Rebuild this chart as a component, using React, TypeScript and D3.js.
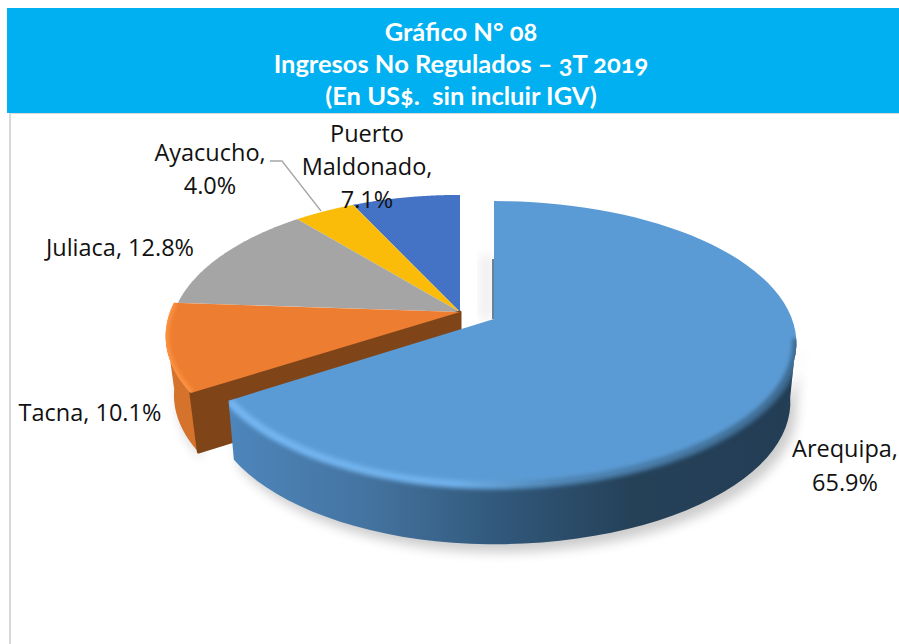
import * as React from 'react';
import * as d3 from 'd3';

const categories = ['Arequipa', 'Tacna', 'Juliaca', 'Ayacucho', 'Puerto Maldonado'];
const shares = [65.9, 10.1, 12.8, 4.0, 7.1];
const topColors = ['#5b9bd5', '#ed7d31', '#a5a5a5', '#fbbc09', '#4472c4'];
const titleLines = ['Gráfico N° 08', 'Ingresos No Regulados – 3T 2019', '(En US$.  sin incluir IGV)'];

const W = 899;
const H = 644;
const depth = 59;
const persp = 0.17;

type Pt = [number, number];
type Disc = { cx: number; cy: number; rxL: number; rxR: number; ry: number; shrink: number };

// tilted disc with a little perspective, t is the clockwise angle from 12 o'clock
function project(t: number, c: Disc): Pt {
  const u = Math.sin(t);
  const v = -Math.cos(t);
  const k = 1 - persp * v;
  return [c.cx + ((u < 0 ? c.rxL : c.rxR) * u) / k, c.cy + (c.ry * v) / k];
}

function arcPoints(a0: number, a1: number, c: Disc) {
  return d3.range(0, 81).map(i => project(a0 + ((a1 - a0) * i) / 80, c));
}

const line = d3.line();

// the lower edge sits a bit further from the eye, so it is narrower
const lower = (p: Pt, c: Disc): Pt => [c.cx + (p[0] - c.cx) * c.shrink, p[1] + depth];

const wall = (pts: Pt[], c: Disc) =>
  line([...pts, ...pts.map(p => lower(p, c)).reverse()]) + 'Z';

export default function App() {
  const arcs = d3.pie<number>().sort(null)(shares);
  const mainC: Disc = { cx: 494, cy: 319, rxL: 286, rxR: 298, ry: 138, shrink: 0.98 };
  const restC: Disc = { cx: 460, cy: 312, rxL: 286, rxR: 286, ry: 137, shrink: 0.966 };
  const tacnaC: Disc = { ...restC, rxL: 290, shrink: 0.972 };

  const geom = (i: number) => {
    const c = i === 0 ? mainC : i === 1 ? tacnaC : restC;
    const outer = arcPoints(arcs[i].startAngle, arcs[i].endAngle, c);
    return { c, outer, top: line([[c.cx, c.cy], ...outer]) + 'Z' };
  };

  const g0 = geom(0);
  const g1 = geom(1);
  // only the front of the rim shows
  const mainRim = g0.outer.filter(p => p[1] > 338);
  const tacnaRim = g1.outer.filter(p => p[1] > 330 && p[0] < 300);
  const tacnaStart = g1.outer[0];
  const mainEnd = g0.outer[g0.outer.length - 1];
  const mainWall = wall(mainRim, mainC);
  const mainEndCap = line([mainEnd, lower(mainEnd, mainC), lower(mainRim[mainRim.length - 1], mainC)]) + 'Z';

  return (
    <svg width={W} height={H} style={{ position: 'absolute', left: 0, top: 0 }}>
      <defs>
        <linearGradient id="mainWall" gradientUnits="userSpaceOnUse" x1="230" x2="790" y1="0" y2="0">
          <stop offset="0" stopColor="#4d86bc" />
          <stop offset="0.25" stopColor="#44739f" />
          <stop offset="0.5" stopColor="#305678" />
          <stop offset="0.72" stopColor="#254158" />
          <stop offset="1" stopColor="#233d55" />
        </linearGradient>
        <linearGradient id="bevel" gradientUnits="userSpaceOnUse" x1="230" x2="790" y1="0" y2="0">
          <stop offset="0" stopColor="#74b6f2" />
          <stop offset="0.4" stopColor="#6fb0ea" />
          <stop offset="0.58" stopColor="#4f86b6" />
          <stop offset="1" stopColor="#3d6a90" />
        </linearGradient>
        <filter id="blur6" x="-20%" y="-20%" width="140%" height="140%">
          <feGaussianBlur stdDeviation="6" />
        </filter>
        <filter id="blur2" x="-10%" y="-10%" width="120%" height="120%">
          <feGaussianBlur stdDeviation="2" />
        </filter>
        <clipPath id="tacnaClip"><path d={g1.top} /></clipPath>
        <clipPath id="mainClip">
          <path d={g0.top} />
          <path d={mainWall} />
          <path d={mainEndCap} />
        </clipPath>
      </defs>

      <rect x={10} y={113} width={W} height={H} fill="#fff" stroke="#d9d9d9" strokeWidth={2} />
      <rect x={7} y={8} width={W - 7} height={105} fill="#00b0f0" />
      <g fontFamily="Lato" fontWeight={700} fontSize={25.5} fill="#fff" textAnchor="middle" style={{ fontFeatureSettings: '"onum"' }}>
        {titleLines.map((t, i) => (
          <text key={t} x={461} y={41 + i * 32} xmlSpace="preserve" style={{ whiteSpace: 'pre' }}>{t}</text>
        ))}
      </g>

      {/* soft shadow under the two front slices */}
      <path d={mainWall} transform="translate(6,8)" fill="#000" opacity={0.2} filter="url(#blur6)" />
      <path d={wall(tacnaRim, tacnaC)} transform="translate(4,8)" fill="#000" opacity={0.16} filter="url(#blur6)" />
      <rect x={480} y={255} width={12} height={65} fill="#000" opacity={0.07} filter="url(#blur6)" />

      {/* back slices */}
      {[4, 3, 2].map(i => (
        <path key={categories[i]} d={geom(i).top} fill={topColors[i]} />
      ))}

      {/* Tacna rim and cut face */}
      <path d={wall(tacnaRim, tacnaC)} fill="#d5722c" />
      <path d={line([[tacnaC.cx, tacnaC.cy], tacnaStart, lower(tacnaStart, tacnaC), [tacnaC.cx, tacnaC.cy + depth]]) + 'Z'} fill="#7f4519" stroke="#7f4519" strokeWidth={3} strokeLinejoin="round" />
      <path d={g1.top} fill={topColors[1]} />
      <g clipPath="url(#tacnaClip)">
        <path d={line(g1.outer) as string} fill="none" stroke="#ff9440" strokeWidth={6} filter="url(#blur2)" />
      </g>

      {/* Arequipa */}
      <path d={mainWall} fill="url(#mainWall)" />
      <path d={mainEndCap} fill="#4d86bc" />
      <rect x={mainC.cx - 2} y={mainC.cy - 60} width={2} height={60} fill="#2d4f6e" opacity={0.7} />
      <path d={g0.top} fill={topColors[0]} />
      <g clipPath="url(#mainClip)">
        <path d={line(mainRim) as string} fill="none" stroke="url(#bevel)" strokeWidth={8} filter="url(#blur2)" />
      </g>

      {/* leader for Ayacucho */}
      <polyline points="270,161 282,161 321,211" fill="none" stroke="#a6a6a6" strokeWidth={1.3} />

      <g fontFamily="Open Sans" fontSize={23.5} fill="#111" textAnchor="middle">
        <text x={210} y={161}>Ayacucho,</text>
        <text x={210} y={194}>4.0%</text>
        <text x={367} y={142}>Puerto</text>
        <text x={367} y={175}>Maldonado,</text>
        <text x={367} y={208}>7.1%</text>
        <text x={120} y={256}>Juliaca, 12.8%</text>
        <text x={90} y={421}>Tacna, 10.1%</text>
        <text x={845} y={457}>Arequipa,</text>
        <text x={845} y={491}>65.9%</text>
      </g>
    </svg>
  );
}
